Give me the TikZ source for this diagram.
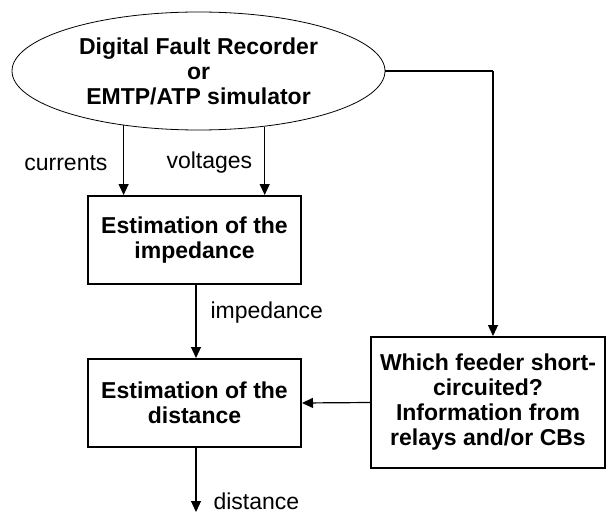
\documentclass[tikz,border=0pt]{standalone}
\usepackage{fontspec}
\setmainfont{Liberation Sans}
\usetikzlibrary{shapes.geometric,arrows.meta}
\tikzset{
  txt/.style={font=\fontsize{23}{25}\selectfont},
  bold/.style={font=\fontsize{23}{25}\selectfont\bfseries, align=center},
  boxnode/.style={bold, draw, line width=2pt, inner sep=0pt},
  arr/.style={line width=1.2pt, -{Triangle[length=11pt,width=10pt]}},
  ln/.style={line width=1.2pt}
}
\begin{document}
\begin{tikzpicture}[x=1pt,y=-1pt]
\useasboundingbox (0,0) rectangle (607,513);
\node[ellipse, draw, line width=0.8pt, bold, minimum width=373pt, minimum height=118pt, inner sep=0pt] (src) at (198.5,71)
  {Digital Fault Recorder\\or\\EMTP/ATP simulator};
\node[boxnode, minimum width=213pt, minimum height=88pt] (imp) at (194.5,240) {Estimation of the\\impedance};
\node[boxnode, minimum width=213pt, minimum height=88pt] (dist) at (194.5,403) {Estimation of the\\distance};
\node[boxnode, minimum width=234pt, minimum height=131pt] (feed) at (488,402.5) {Which feeder short-\\circuited?\\Information from\\relays and/or CBs};
\coordinate (corner) at (493,71);
\coordinate (out) at (196,512);
\draw[arr] (src.216.4) -- (src.216.4 |- imp.north);
\draw[arr] (src.320.8) -- (src.320.8 |- imp.north);
\draw[arr] (imp.south -| 196,0) -- (dist.north -| 196,0);
\draw[arr] (dist.south -| out) -- (out);
\draw[ln] (src.east) -- (corner);
\draw[arr] (corner) -- (corner |- feed.north);
\draw[arr] (feed.west) -- (dist.east);
\node[txt, anchor=east] (lc) at (111,163) {currents};
\node[txt, anchor=west] (lv) at (163,163) {voltages};
\node[txt, anchor=west] (li) at (207,313) {impedance};
\node[txt, anchor=west] (ld) at (210,501) {distance};
\end{tikzpicture}
\end{document}
